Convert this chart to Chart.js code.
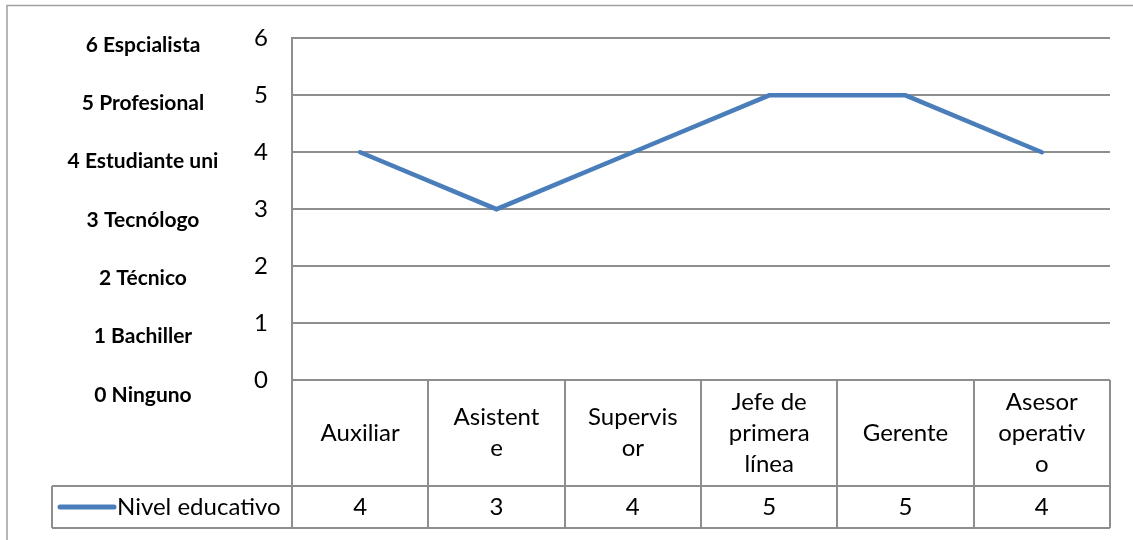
<!DOCTYPE html>
<html>
<head>
<meta charset="utf-8">
<script src="https://cdn.jsdelivr.net/npm/chart.js@4.4.0/dist/chart.umd.min.js"></script>
<style>
  body { margin: 0; background: #fff; }
  canvas { display: block; }
</style>
</head>
<body>
<canvas id="myChart" width="1133" height="540"></canvas>
<script>
// categories, wrapped the same way the table cells wrap them
var categories = [["Auxiliar"], ["Asistent", "e"], ["Supervis", "or"], ["Jefe de", "primera", "línea"], ["Gerente"], ["Asesor", "operativ", "o"]];
var nivelEducativo = [4, 3, 4, 5, 5, 4];
var seriesName = "Nivel educativo";
// text box on the left, top to bottom
var levelLabels = ["6 Espcialista", "5 Profesional", "4 Estudiante uni", "3 Tecnólogo", "2 Técnico", "1 Bachiller", "0 Ninguno"];
var yMin = 0, yMax = 6, yStep = 1;

var lineColor = '#4A7EBB';
var gridColor = '#8e8e8e';
var font = 'Lato';

// draws the frame, the text box and the data table under the plot
var tablePlugin = {
	id: 'dataTable',
	beforeDraw: function(chart) {
		var ctx = chart.ctx;
		ctx.save();
		ctx.fillStyle = '#fff';
		ctx.fillRect(0, 0, chart.width, chart.height);
		ctx.strokeStyle = '#a0a0a0';
		ctx.lineWidth = 1.5;
		ctx.beginPath();
		ctx.moveTo(7, chart.height);
		ctx.lineTo(7, 5.5);
		ctx.lineTo(chart.width, 5.5);
		ctx.stroke();
		ctx.restore();
	},
	afterDraw: function(chart) {
		var ctx = chart.ctx;
		var a = chart.chartArea;
		var xs = chart.scales.x;
		var labels = chart.data.labels;
		var values = chart.data.datasets[0].data;
		var n = labels.length;

		// column edges from the category scale
		var edges = [a.left];
		for (var i = 1; i < n; i++) {
			edges.push((xs.getPixelForValue(i - 1) + xs.getPixelForValue(i)) / 2);
		}
		edges.push(a.right);

		var top = a.bottom;
		var mid = top + 106;
		var bot = mid + 42;
		var legLeft = 52;

		ctx.save();
		ctx.strokeStyle = gridColor;
		ctx.lineWidth = 2;
		ctx.beginPath();
		for (var j = 0; j < edges.length; j++) {
			var ex = Math.round(edges[j]);
			ctx.moveTo(ex, top);
			ctx.lineTo(ex, bot);
		}
		ctx.moveTo(legLeft, mid);
		ctx.lineTo(a.right, mid);
		ctx.moveTo(legLeft, bot);
		ctx.lineTo(a.right, bot);
		ctx.moveTo(legLeft, mid);
		ctx.lineTo(legLeft, bot);
		ctx.stroke();

		// category names
		ctx.fillStyle = '#000';
		ctx.textAlign = 'center';
		ctx.textBaseline = 'middle';
		ctx.font = '24px ' + font;
		var lh = 31;
		for (var k = 0; k < n; k++) {
			var cx = xs.getPixelForValue(k);
			var lines = labels[k];
			var y0 = (top + mid) / 2 - (lines.length - 1) * lh / 2;
			for (var m = 0; m < lines.length; m++) {
				ctx.fillText(lines[m], cx, y0 + m * lh);
			}
			ctx.fillText(String(values[k]), cx, (mid + bot) / 2);
		}

		// legend key in the table
		var ly = (mid + bot) / 2;
		ctx.strokeStyle = lineColor;
		ctx.lineWidth = 5;
		ctx.lineCap = 'round';
		ctx.beginPath();
		ctx.moveTo(60, ly);
		ctx.lineTo(114, ly);
		ctx.stroke();
		ctx.textAlign = 'left';
		ctx.fillText(chart.data.datasets[0].label, 117, ly);

		// bold text box with the level names
		ctx.textAlign = 'center';
		ctx.font = 'bold 21px ' + font;
		for (var t = 0; t < levelLabels.length; t++) {
			ctx.fillText(levelLabels[t], 143, 45 + t * 58.3);
		}
		ctx.restore();
	}
};

var ctx = document.getElementById('myChart').getContext('2d');
var chart = new Chart(ctx, {
	type: 'line',
	data: {
		labels: categories,
		datasets: [{
			label: seriesName,
			data: nivelEducativo,
			borderColor: lineColor,
			borderWidth: 4.5,
			borderCapStyle: 'round',
			pointRadius: 0,
			tension: 0,
			fill: false
		}]
	},
	options: {
		responsive: false,
		animation: false,
		devicePixelRatio: 1,
		layout: {
			padding: { top: 35, right: 23, bottom: 160, left: 0 }
		},
		plugins: {
			legend: { display: false },
			tooltip: { enabled: false }
		},
		scales: {
			x: {
				display: false,
				offset: true
			},
			y: {
				min: yMin,
				max: yMax,
				ticks: {
					stepSize: yStep,
					color: '#000',
					padding: 24,
					font: { family: font, size: 24 }
				},
				grid: { color: gridColor, lineWidth: 2, drawTicks: false },
				border: { color: gridColor, width: 2 },
				afterFit: function(scale) {
					scale.width = 292;
				}
			}
		}
	},
	plugins: [tablePlugin]
});
</script>
</body>
</html>
